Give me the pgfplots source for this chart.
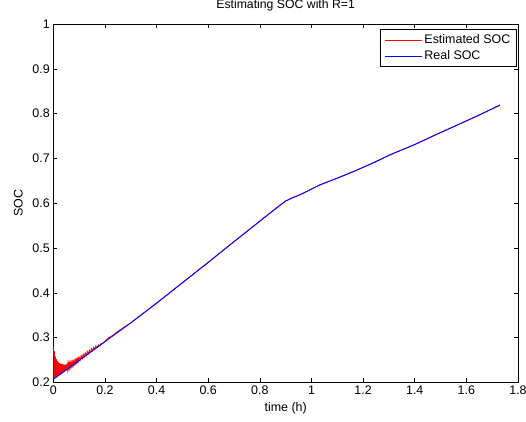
\documentclass[border=0pt]{standalone}
\usepackage{fontspec}
\setmainfont{Liberation Sans}
\usepackage{pgfplots}
\pgfplotsset{compat=1.18}
\begin{document}
\begin{tikzpicture}
\useasboundingbox (-53.3bp,-39.5bp) rectangle (472.7bp,382.5bp);
\begin{axis}[
  at={(0,0)}, anchor=south west,
  scale only axis,
  width=464.7bp, height=358.5bp,
  xmin=0, xmax=1.8, ymin=0.2, ymax=1,
  xtick={0,0.2,...,1.8},
  ytick={0.2,0.3,...,1.0},
  tick align=inside,
  major tick length=4bp,
  tick style={black, line width=0.6bp},
  axis line style={black, line width=1bp},
  /pgf/number format/assume math mode=true,
  /pgf/number format/fixed,
  font=\fontsize{12.5}{14}\selectfont,
  ticklabel style={font=\fontsize{12.5}{14}\selectfont},
  title={Estimating SOC with R=1},
  title style={at={(axis description cs:0.5,1.036)}, anchor=center, font=\fontsize{12.3}{14}\selectfont},
  xlabel={time (h)},
  ylabel={SOC},
  x label style={at={(axis description cs:0.5,-0.0711)}, anchor=center},
  y label style={at={(axis description cs:-0.0753,0.5)}, anchor=center},
  legend style={at={(rel axis cs:0.997,0.985)}, anchor=north east,
    draw=black, line width=0.7bp, font=\fontsize{12.5}{14}\selectfont,
    row sep=1.5bp, inner xsep=4bp, inner ysep=3bp},
  legend cell align=left,
  legend image code/.code={\draw[#1, line width=0.9bp] (0bp,0bp) -- (37bp,0bp);},
]
\addplot[red, line width=0.9bp] coordinates {
(0,0.280) (0.002,0.209) (0.004,0.270) (0.006,0.211) (0.008,0.258) (0.010,0.212)
(0.012,0.252) (0.014,0.213) (0.016,0.248) (0.018,0.215) (0.020,0.245) (0.022,0.216)
(0.024,0.243) (0.026,0.218) (0.028,0.242) (0.030,0.219) (0.032,0.241) (0.034,0.221)
(0.036,0.241) (0.038,0.223) (0.040,0.240) (0.042,0.225) (0.044,0.240) (0.046,0.226)
(0.048,0.240) (0.050,0.228) (0.052,0.241) (0.054,0.230) (0.056,0.241) (0.058,0.232)
(0.060,0.242) (0.062,0.233) (0.064,0.243) (0.066,0.235) (0.068,0.244) (0.070,0.237)
(0.072,0.245) (0.074,0.238) (0.076,0.246) (0.078,0.240) (0.080,0.247) (0.082,0.242)
(0.084,0.249) (0.086,0.243) (0.088,0.250) (0.090,0.245) (0.092,0.252) (0.094,0.247)
(0.096,0.253) (0.098,0.248) (0.100,0.256) (0.104,0.250) (0.108,0.260) (0.112,0.254)
(0.116,0.263) (0.120,0.257) (0.124,0.266) (0.128,0.261) (0.132,0.269) (0.136,0.264)
(0.140,0.272) (0.144,0.268) (0.148,0.275) (0.152,0.271) (0.156,0.278) (0.160,0.274)
(0.165,0.281) (0.170,0.278) (0.175,0.284) (0.180,0.282) (0.185,0.287) (0.190,0.287)
(0.200,0.292) (0.215,0.300) (0.230,0.305) (0.245,0.312) (0.300,0.333) (0.400,0.377)
(0.490,0.418) (0.600,0.468) (0.684,0.507) (0.800,0.560) (0.870,0.592) (0.900,0.605)
(0.930,0.613) (0.960,0.620) (1.033,0.641) (1.100,0.656) (1.168,0.672) (1.250,0.693)
(1.304,0.708) (1.400,0.731) (1.478,0.752) (1.582,0.779) (1.650,0.797) (1.730,0.819)
};
\addlegendentry{Estimated SOC}
\addplot[blue, line width=0.9bp] coordinates {
(0,0.207) (0.100,0.249) (0.200,0.291) (0.245,0.310) (0.300,0.333) (0.400,0.377)
(0.490,0.418) (0.600,0.468) (0.684,0.507) (0.800,0.560) (0.870,0.592) (0.900,0.605)
(0.930,0.613) (0.960,0.620) (1.033,0.641) (1.100,0.656) (1.168,0.672) (1.250,0.693)
(1.304,0.708) (1.400,0.731) (1.478,0.752) (1.582,0.779) (1.650,0.797) (1.730,0.819)
};
\addlegendentry{Real SOC}
\end{axis}
\end{tikzpicture}
\end{document}
